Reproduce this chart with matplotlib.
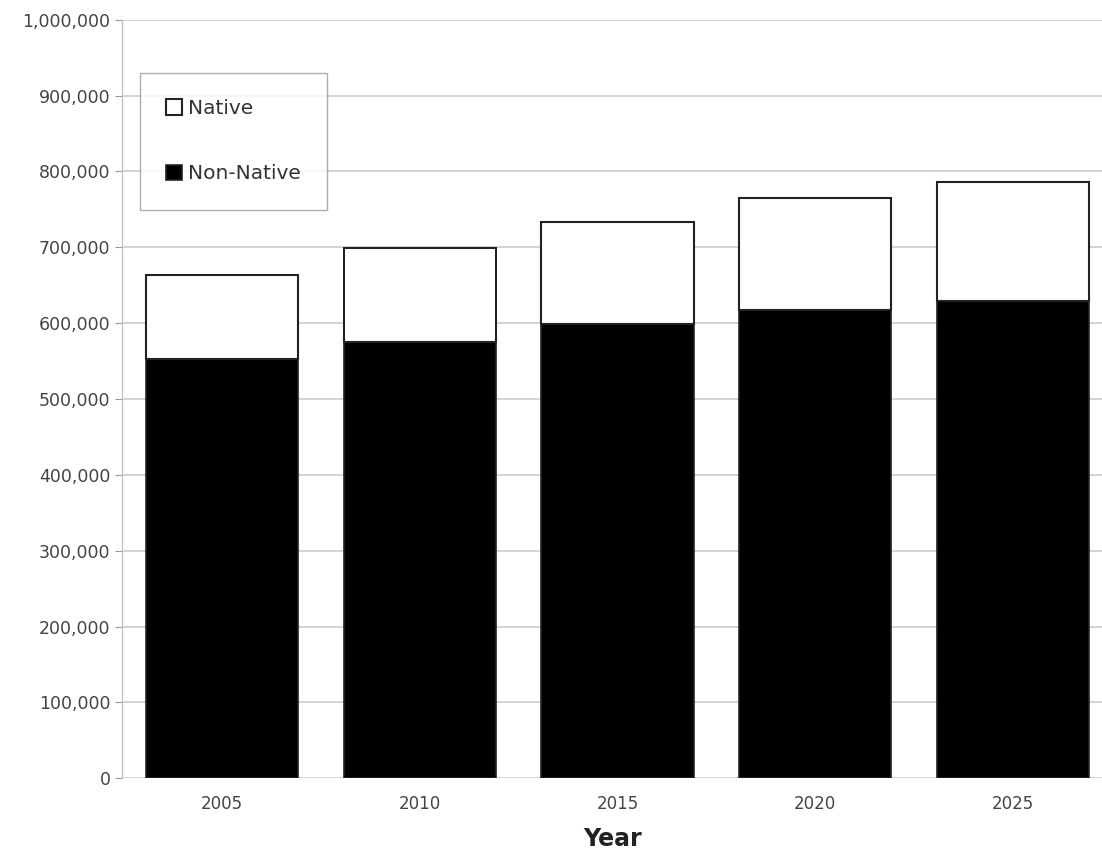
import matplotlib
matplotlib.use("Agg")
import matplotlib.pyplot as plt
from matplotlib.ticker import FuncFormatter

years = ["2005", "2010", "2015", "2020", "2025"]
non_native = [553000, 575000, 599000, 617000, 629000]
native = [111000, 124000, 134000, 148000, 157000]
yticks = list(range(0, 1000001, 100000))

plt.rcParams['font.family'] = ['DejaVu Sans']
fig = plt.figure(figsize=(11.02, 8.6), dpi=100)
ax = fig.add_axes([0.111, 0.095, 0.889, 0.882])

x = list(range(len(years)))
w = 0.77
ax.bar(x, non_native, width=w, color="black", edgecolor="#222222", linewidth=1.2,
       label="Non-Native", zorder=3)
ax.bar(x, native, width=w, bottom=non_native, color="white", edgecolor="#222222",
       linewidth=1.5, label="Native", zorder=3)

ax.set_ylim(0, 1000000)
ax.set_xlim(-0.505, 4.45)
ax.set_yticks(yticks)
ax.yaxis.set_major_formatter(FuncFormatter(lambda v, p: f"{int(v):,}"))
ax.set_xticks(x)
ax.set_xticklabels(years)
ax.tick_params(axis="y", labelsize=12.5, colors="#444444", length=5, color="#999999")
ax.tick_params(axis="x", labelsize=12, colors="#444444", length=0, pad=12)
ax.grid(axis="y", color="#cccccc", linewidth=1.2, zorder=0)
for s in ["top", "right", "bottom"]:
    ax.spines[s].set_visible(False)
ax.spines["left"].set_color("#bbbbbb")
ax.set_xlabel("Year", fontsize=17, fontweight="bold", color="#222222", labelpad=10)

handles, labels = ax.get_legend_handles_labels()
leg = ax.legend(handles[::-1], labels[::-1], loc="upper left",
                bbox_to_anchor=(0.018, 0.93), fontsize=14.5, frameon=True,
                fancybox=False, edgecolor="#999999", handlelength=0.8,
                handleheight=0.8, handletextpad=0.3, labelspacing=2.3,
                borderpad=1.3, borderaxespad=0)
leg.get_frame().set_linewidth(1.0)
leg._legend_box.sep = 0
for t in leg.get_texts():
    t.set_color("#333333")

fig.canvas.draw()
# widen the legend box to the reference size via padding on the right
leg.get_frame().set_width(leg.get_frame().get_width() + 30)

fig.savefig("out.png", dpi=100)
